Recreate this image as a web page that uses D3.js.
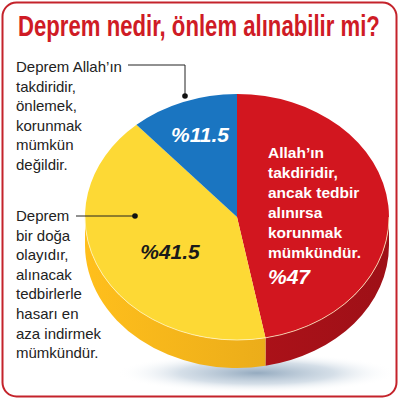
<!DOCTYPE html>
<html>
<head>
<meta charset="utf-8">
<script src="https://cdn.jsdelivr.net/npm/d3@7"></script>
<style>
  html, body { margin: 0; padding: 0; background: #fff; }
  svg { display: block; }
</style>
</head>
<body>
<script>
const width = 400;
const height = 400;

// dilimler: kırmızı, sarı, mavi (saat yönünde, tepeden başlayarak)
const categories = ['tedbir', 'doga', 'takdir'];
const values = [47, 41.5, 11.5];
const percentLabels = ['%47', '%41.5', '%11.5'];
const topColors = ['#d2161f', '#fdd935', '#1a75c1'];
const sideColors = ['#b3121a', '#fbb51b', '#145e9c'];

const title = 'Deprem nedir, önlem alınabilir mi?';
const redLines = ['Allah\u2019ın', 'takdiridir,', 'ancak tedbir', 'alınırsa', 'korunmak', 'mümkündür.'];
const blueNote = ['Deprem Allah\u2019ın', 'takdiridir,', 'önlemek,', 'korunmak', 'mümkün', 'değildir.'];
const yellowNote = ['Deprem', 'bir doğa', 'olayıdır,', 'alınacak', 'tedbirlerle', 'hasarı en', 'aza indirmek', 'mümkündür.'];

const cx = 237, cy = 217, rx = 152, ry = 123, depth = 28;

const svg = d3.select('body').append('svg').attr('width', width).attr('height', height);
const defs = svg.append('defs');

// gölge
const sh = defs.append('radialGradient').attr('id', 'shadow');
sh.append('stop').attr('offset', '0%').attr('stop-color', '#8fa6bc').attr('stop-opacity', 0.95);
sh.append('stop').attr('offset', '55%').attr('stop-color', '#c3d1de').attr('stop-opacity', 0.7);
sh.append('stop').attr('offset', '100%').attr('stop-color', '#ffffff').attr('stop-opacity', 0);

// kenar çerçeve
svg.append('rect')
    .attr('x', 2.5).attr('y', 2.5)
    .attr('width', 394).attr('height', 394)
    .attr('rx', 14)
    .attr('fill', '#fff')
    .attr('stroke', '#c4232b')
    .attr('stroke-width', 2);

// başlık: dar görünüm için yatayda sıkıştırılıyor
const titleText = svg.append('text')
    .attr('x', 0).attr('y', 0)
    .attr('font-family', '"Liberation Sans", Arial, sans-serif')
    .attr('font-weight', 'bold')
    .attr('font-size', 29)
    .attr('fill', '#cf1b25')
    .text(title);
const tw = titleText.node().getComputedTextLength();
titleText.attr('transform', `translate(18,36) scale(${362 / tw},1)`);

svg.append('ellipse')
    .attr('cx', cx + 20).attr('cy', cy + ry + depth + 5)
    .attr('rx', 140).attr('ry', 20)
    .attr('fill', 'url(#shadow)');

const pie = d3.pie().sort(null).value(d => d);
const arcs = pie(values);

const pt = (a, dy) => [cx + rx * Math.sin(a), cy - ry * Math.cos(a) + (dy || 0)];

// yan yüzler (sadece önde görünen kısım)
const sides = svg.append('g');
arcs.forEach((d, i) => {
    const a0 = Math.max(d.startAngle, Math.PI / 2);
    const a1 = Math.min(d.endAngle, 3 * Math.PI / 2);
    if (a1 <= a0) return;
    const p0 = pt(a0), p1 = pt(a1), q1 = pt(a1, depth), q0 = pt(a0, depth);
    const path = `M${p0}A${rx},${ry} 0 0 1 ${p1}L${q1}A${rx},${ry} 0 0 0 ${q0}Z`;
    const gid = 'side' + i;
    const lg = defs.append('linearGradient').attr('id', gid)
        .attr('gradientUnits', 'userSpaceOnUse')
        .attr('x1', cx - rx).attr('x2', cx + rx).attr('y1', 0).attr('y2', 0);
    lg.append('stop').attr('offset', '0%').attr('stop-color', d3.color(sideColors[i]).brighter(0.15));
    lg.append('stop').attr('offset', '100%').attr('stop-color', d3.color(sideColors[i]).darker(0.35));
    sides.append('path').attr('d', path).attr('fill', `url(#${gid})`);
});

// üst yüz: d3.arc + dikey sıkıştırma
const arcGen = d3.arc().innerRadius(0).outerRadius(rx);
svg.append('g')
    .attr('transform', `translate(${cx},${cy}) scale(1,${ry / rx})`)
    .selectAll('path')
    .data(arcs)
    .enter()
    .append('path')
    .attr('d', arcGen)
    .attr('fill', (d, i) => topColors[i]);

// ön kenardaki ince parlak çizgi
svg.append('path')
    .attr('d', `M${pt(Math.PI / 2)}A${rx},${ry} 0 0 1 ${pt(3 * Math.PI / 2)}`)
    .attr('fill', 'none')
    .attr('stroke', '#fff6c8')
    .attr('stroke-opacity', 0.75)
    .attr('stroke-width', 1);

const font = '"Liberation Sans", Arial, sans-serif';

// yüzde etiketleri
const pctPos = [null, [170, 259], [200, 142]];
const pctFill = ['#fff', '#1a1a1a', '#fff'];
[1, 2].forEach(i => {
    svg.append('text')
        .attr('x', pctPos[i][0]).attr('y', pctPos[i][1])
        .attr('text-anchor', 'middle')
        .attr('font-family', font)
        .attr('font-weight', 'bold')
        .attr('font-style', 'italic')
        .attr('font-size', 21)
        .attr('fill', pctFill[i])
        .text(percentLabels[i]);
});

// kırmızı dilim metni
const red = svg.append('text')
    .attr('font-family', font)
    .attr('font-weight', 'bold')
    .attr('font-size', 15.5)
    .attr('fill', '#fff');
redLines.forEach((t, k) => {
    red.append('tspan').attr('x', 268).attr('y', 158 + k * 20).text(t);
});
svg.append('text')
    .attr('x', 268).attr('y', 284)
    .attr('font-family', font)
    .attr('font-weight', 'bold')
    .attr('font-style', 'italic')
    .attr('font-size', 21)
    .attr('fill', '#fff')
    .text(percentLabels[0]);

// sol açıklamalar
const note = (lines, y0) => {
    const t = svg.append('text')
        .attr('font-family', font)
        .attr('font-size', 15)
        .attr('fill', '#222');
    lines.forEach((s, k) => t.append('tspan').attr('x', 16).attr('y', y0 + k * 19.6).text(s));
};
note(blueNote, 72);
note(yellowNote, 221);

// çizgiler
svg.append('path')
    .attr('d', 'M128,65H185V96')
    .attr('fill', 'none').attr('stroke', '#222').attr('stroke-width', 1);
svg.append('circle').attr('cx', 185).attr('cy', 96).attr('r', 2.8).attr('fill', '#111');
svg.append('path')
    .attr('d', 'M76,216H135')
    .attr('fill', 'none').attr('stroke', '#222').attr('stroke-width', 1);
svg.append('circle').attr('cx', 135).attr('cy', 216).attr('r', 2.8).attr('fill', '#111');
</script>
</body>
</html>
